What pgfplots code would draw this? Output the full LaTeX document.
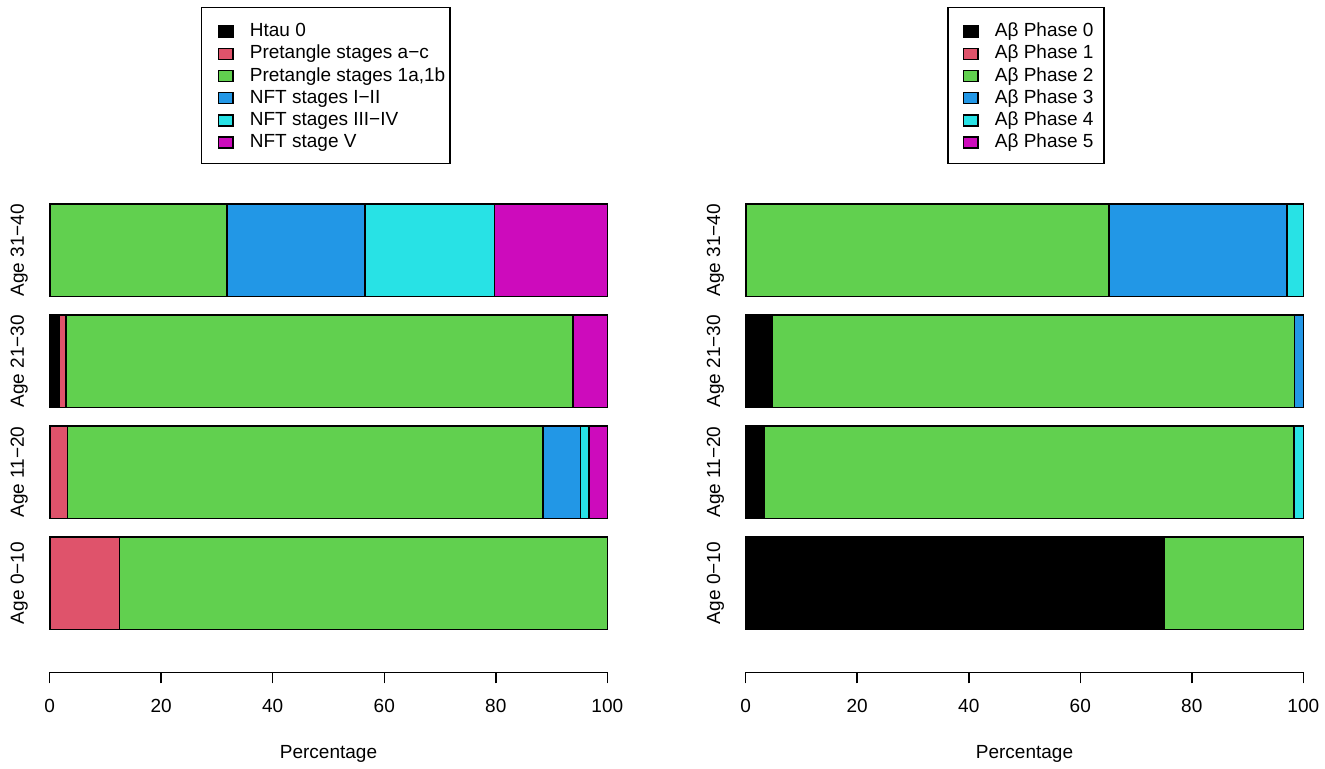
\documentclass[border=0pt]{standalone}
\usepackage{fontspec}
\setmainfont{Liberation Sans}
\usepackage{pgfplots}
\pgfplotsset{compat=1.18}
\definecolor{rred}{HTML}{DF536B}
\definecolor{rgreen}{HTML}{61D04F}
\definecolor{rblue}{HTML}{2297E6}
\definecolor{rcyan}{HTML}{28E2E5}
\definecolor{rmag}{HTML}{CD0BBC}
\newcommand\fs{\fontsize{9.5pt}{11pt}\selectfont}
\pgfplotsset{
  rbar/.style={
    xbar stacked, bar width=1, clip=false,
    scale only axis, width=278.8pt, height=234.15pt,
    xmin=0, xmax=100, ymin=-0.265, ymax=4.8,
    axis x line*=bottom, axis y line*=left,
    x axis line style={line width=0.75pt, black},
    y axis line style={draw=none},
    xtick={0,20,40,60,80,100},
    ytick={0.7,1.9,3.1,4.3},
    yticklabels={Age 0−10,Age 11−20,Age 21−30,Age 31−40},
    tick align=outside, major tick length=5.5pt,
    xtick style={black, line width=0.75pt},
    ytick style={draw=none},
    /pgf/number format/assume math mode=true,
    ticklabel style={font=\fs},
    xticklabel style={yshift=-4.2pt},
    yticklabel style={xshift=-7.35pt, rotate=90, anchor=base},
    xlabel={Percentage},
    xlabel style={font=\fs, at={(axis description cs:0.5,0)}, anchor=base, yshift=-42.85pt},
    legend cell align=left,
  },
  rleg/.style={legend style={at={(axis description cs:#1,1.4213)}, anchor=north west,
    draw=black, line width=0.75pt, inner ysep=5.9pt, row sep=0.4pt, font=\fs,
    nodes={inner sep=0pt, text height=8.7pt, text depth=2pt},
    /tikz/every odd column/.append style={column sep=8pt}}},
  sbar/.style={fill=#1, draw=black, line width=0.8pt},
}
\begin{document}
\begin{tikzpicture}
\path[use as bounding box] (0,0) rectangle (662.5pt,-384.5pt);
% Left panel: tau
\begin{axis}[rbar, rleg=0.2708, at={(24.85pt,-336.15pt)}, anchor=south west,
  legend style={inner xsep=2.25pt},
  legend image code/.code={\path[draw=none,fill=none] (0pt,-3.6pt) rectangle (6.25pt,1.9pt);
    \draw[#1,line width=0.75pt] (6.25pt,-3.6pt) rectangle (13.6pt,1.9pt);}]
\addplot[sbar=black] coordinates {(0,0.7) (0,1.9) (1.7,3.1) (0,4.3)};
\addlegendentry{Htau 0}
\addplot[sbar=rred] coordinates {(12.5,0.7) (3.2,1.9) (1.2,3.1) (0,4.3)};
\addlegendentry{Pretangle stages a−c}
\addplot[sbar=rgreen] coordinates {(87.5,0.7) (85.3,1.9) (90.9,3.1) (31.8,4.3)};
\addlegendentry{Pretangle stages 1a,1b}
\addplot[sbar=rblue] coordinates {(0,0.7) (6.7,1.9) (0,3.1) (24.7,4.3)};
\addlegendentry{NFT stages I−II}
\addplot[sbar=rcyan] coordinates {(0,0.7) (1.5,1.9) (0,3.1) (23.3,4.3)};
\addlegendentry{NFT stages III−IV}
\addplot[sbar=rmag] coordinates {(0,0.7) (3.3,1.9) (6.2,3.1) (20.2,4.3)};
\addlegendentry{NFT stage V}
\end{axis}
% Right panel: amyloid
\begin{axis}[rbar, rleg=0.3616, at={(372.85pt,-336.15pt)}, anchor=south west,
  legend style={inner xsep=5.2pt},
  legend image code/.code={\path[draw=none,fill=none] (0pt,-3.6pt) rectangle (2.5pt,1.9pt);
    \draw[#1,line width=0.75pt] (2.5pt,-3.6pt) rectangle (9.85pt,1.9pt);}]
\addplot[sbar=black] coordinates {(75,0.7) (3.4,1.9) (4.7,3.1) (0,4.3)};
\addlegendentry{Aβ Phase 0}
\addplot[sbar=rred] coordinates {(0,0.7) (0,1.9) (0,3.1) (0,4.3)};
\addlegendentry{Aβ Phase 1}
\addplot[sbar=rgreen] coordinates {(25,0.7) (94.9,1.9) (93.7,3.1) (65.1,4.3)};
\addlegendentry{Aβ Phase 2}
\addplot[sbar=rblue] coordinates {(0,0.7) (0,1.9) (1.6,3.1) (32.0,4.3)};
\addlegendentry{Aβ Phase 3}
\addplot[sbar=rcyan] coordinates {(0,0.7) (1.7,1.9) (0,3.1) (2.9,4.3)};
\addlegendentry{Aβ Phase 4}
\addplot[sbar=rmag] coordinates {(0,0.7) (0,1.9) (0,3.1) (0,4.3)};
\addlegendentry{Aβ Phase 5}
\end{axis}
\end{tikzpicture}
\end{document}
